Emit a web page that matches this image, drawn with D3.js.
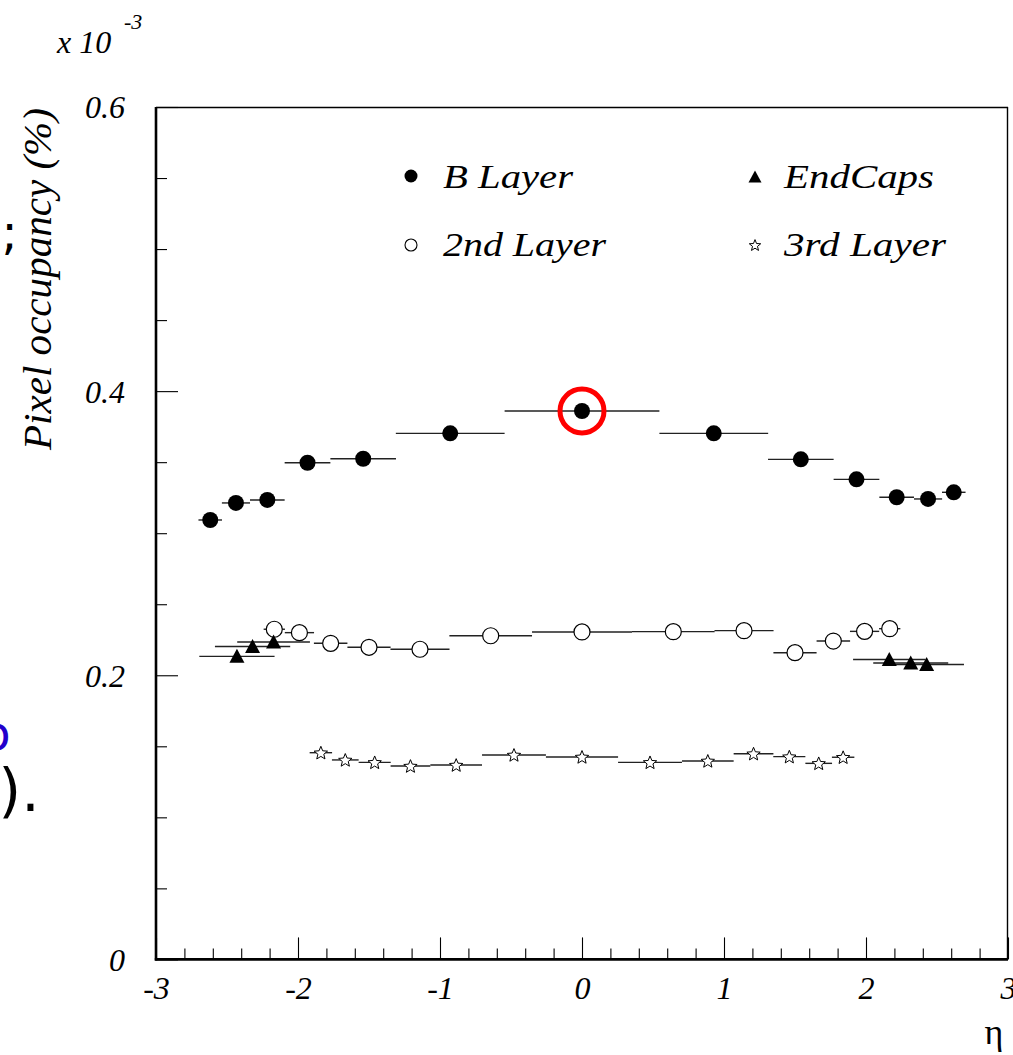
<!DOCTYPE html>
<html>
<head>
<meta charset="utf-8">
<script src="https://cdn.jsdelivr.net/npm/d3@7"></script>
<style>
  html, body { margin: 0; padding: 0; background: #fff; }
  svg { display: block; }
  .serif { font-family: "Liberation Serif", "Times New Roman", serif; font-style: italic; }
</style>
</head>
<body>
<svg id="chart" width="1013" height="1055"></svg>
<script>
// Pixel occupancy (in units of 1e-3 %) versus pseudorapidity for the pixel layers.
// Each bin: eta = bin centre, etaErr = half bin width, occ = occupancy.

const bLayerEta    = [-2.618, -2.437, -2.216, -1.933, -1.541, -0.928, 0, 0.928, 1.541, 1.933, 2.216, 2.437, 2.618];
const bLayerEtaErr = [0.083, 0.099, 0.122, 0.161, 0.231, 0.383, 0.545, 0.383, 0.231, 0.161, 0.122, 0.099, 0.083];
const bLayerOcc    = [0.3093, 0.3213, 0.3234, 0.3496, 0.3524, 0.3703, 0.3860, 0.3703, 0.3520, 0.3379, 0.3253, 0.3241, 0.3288];

const layer2Eta    = [-2.167, -1.990, -1.770, -1.500, -1.141, -0.643, 0, 0.643, 1.141, 1.500, 1.770, 1.990, 2.167];
const layer2EtaErr = [0.075, 0.103, 0.118, 0.152, 0.208, 0.291, 0.352, 0.291, 0.208, 0.152, 0.118, 0.103, 0.075];
const layer2Occ    = [0.2324, 0.2300, 0.2225, 0.2197, 0.2183, 0.2278, 0.2305, 0.2307, 0.2314, 0.2159, 0.2241, 0.2309, 0.2328];

const layer3Eta    = [-1.839, -1.667, -1.460, -1.208, -0.886, -0.479, 0, 0.479, 0.886, 1.208, 1.460, 1.667, 1.839];
const layer3EtaErr = [0.079, 0.094, 0.113, 0.140, 0.182, 0.225, 0.254, 0.225, 0.182, 0.140, 0.113, 0.094, 0.079];
const layer3Occ    = [0.1455, 0.1404, 0.1387, 0.1361, 0.1368, 0.1439, 0.1425, 0.1387, 0.1397, 0.1448, 0.1427, 0.1380, 0.1423];

const endCapEta    = [-2.430, -2.320, -2.172, 2.164, 2.315, 2.427];
const endCapEtaErr = [0.265, 0.265, 0.256, 0.255, 0.264, 0.263];
const endCapOcc    = [0.2133, 0.2202, 0.2234, 0.2111, 0.2086, 0.2076];

const seriesNames  = ["B Layer", "EndCaps", "2nd Layer", "3rd Layer"];
const xTickMajor   = [-3, -2, -1, 0, 1, 2, 3];
const yTickMajor   = [0, 0.2, 0.4, 0.6];
const highlightEta = 0;          // ringed bin
const yExponent    = "-3";

const zip = (eta, err, occ) => eta.map((e, i) => ({ eta: e, err: err[i], occ: occ[i] }));
const bLayer = zip(bLayerEta, bLayerEtaErr, bLayerOcc);
const layer2 = zip(layer2Eta, layer2EtaErr, layer2Occ);
const layer3 = zip(layer3Eta, layer3EtaErr, layer3Occ);
const endCap = zip(endCapEta, endCapEtaErr, endCapOcc);

const svg = d3.select("#chart");
const frame = { left: 156, right: 1008, top: 107, bottom: 959.4 };

const x = d3.scaleLinear().domain([-3, 3]).range([frame.left, frame.right]);
const y = d3.scaleLinear().domain([0, 0.6]).range([frame.bottom, frame.top]);

// ---------- axes (ticks point inwards) ----------
const xMinor = d3.range(-15, 16).filter(i => i % 5 !== 0).map(i => i / 5);
const yMinor = d3.range(0, 13).filter(i => i % 4 !== 0).map(i => i * 0.05);

function styleAxis(g) {
  g.select(".domain").remove();
  g.selectAll(".tick line").attr("stroke", "#000").attr("stroke-width", 1.1);
}

svg.append("g").attr("transform", `translate(0,${frame.bottom})`)
  .call(d3.axisBottom(x).tickValues(xMinor).tickSize(-11).tickFormat(""))
  .call(styleAxis);

const xAxisMajor = svg.append("g").attr("transform", `translate(0,${frame.bottom})`)
  .call(d3.axisBottom(x).tickValues(xTickMajor).tickSize(-22).tickFormat(d => String(d)))
  .call(styleAxis);
xAxisMajor.selectAll(".tick text")
  .attr("class", "serif").attr("y", 40).attr("dy", 0)
  .attr("font-size", 32).attr("fill", "#000");

svg.append("g").attr("transform", `translate(${frame.left},0)`)
  .call(d3.axisLeft(y).tickValues(yMinor).tickSize(-11).tickFormat(""))
  .call(styleAxis);

const yAxisMajor = svg.append("g").attr("transform", `translate(${frame.left},0)`)
  .call(d3.axisLeft(y).tickValues(yTickMajor).tickSize(-22).tickFormat(d => String(d)))
  .call(styleAxis);
yAxisMajor.selectAll(".tick text")
  .attr("class", "serif").attr("x", -31).attr("dy", "0.34em")
  .attr("font-size", 32).attr("fill", "#000");

// ---------- frame ----------
svg.append("line").attr("x1", frame.left).attr("x2", frame.right)
  .attr("y1", frame.top + 0.5).attr("y2", frame.top + 0.5)
  .attr("stroke", "#000").attr("stroke-width", 1.4);
svg.append("line").attr("x1", frame.right - 0.5).attr("x2", frame.right - 0.5)
  .attr("y1", frame.top).attr("y2", frame.bottom)
  .attr("stroke", "#000").attr("stroke-width", 1.4);
svg.append("line").attr("x1", frame.left).attr("x2", frame.left)
  .attr("y1", frame.top).attr("y2", frame.bottom + 1.2)
  .attr("stroke", "#000").attr("stroke-width", 2.6);
svg.append("line").attr("x1", frame.left - 1.2).attr("x2", frame.right)
  .attr("y1", frame.bottom).attr("y2", frame.bottom)
  .attr("stroke", "#000").attr("stroke-width", 2.6);

// ---------- axis titles ----------
svg.append("text").attr("class", "serif")
  .attr("transform", "translate(51,108) rotate(-90)")
  .attr("text-anchor", "end").attr("font-size", 40)
  .attr("textLength", 342).attr("lengthAdjust", "spacingAndGlyphs")
  .text("Pixel occupancy (%)");

svg.append("text")
  .attr("x", 994).attr("y", 1044).attr("text-anchor", "middle")
  .attr("font-family", "'Liberation Serif', serif").attr("font-size", 36)
  .text("η");

const expo = svg.append("text").attr("class", "serif").attr("x", 57).attr("y", 53).attr("font-size", 32);
expo.append("tspan").text("x 10");
expo.append("tspan").attr("x", 124).attr("y", 29).attr("font-size", 22).text(yExponent);

// ---------- marker shapes ----------
const trianglePath = (w, h) => `M0,${-h / 2 - 0.5}L${w / 2},${h / 2 - 0.5}L${-w / 2},${h / 2 - 0.5}Z`;
function starPath(R, r) {
  const pts = [];
  for (let k = 0; k < 10; k++) {
    const a = -Math.PI / 2 + k * Math.PI / 5;
    const rad = k % 2 === 0 ? R : r;
    pts.push([rad * Math.cos(a), rad * Math.sin(a) + 0.6]);
  }
  return "M" + pts.map(p => p[0].toFixed(2) + "," + p[1].toFixed(2)).join("L") + "Z";
}

// ---------- horizontal bin-width bars ----------
const plot = svg.append("g");
function binBars(data) {
  plot.append("g").selectAll("line").data(data).join("line")
    .attr("x1", d => x(d.eta - d.err)).attr("x2", d => x(d.eta + d.err))
    .attr("y1", d => y(d.occ)).attr("y2", d => y(d.occ))
    .attr("stroke", "#222").attr("stroke-width", 1.4);
}
[bLayer, layer2, layer3, endCap].forEach(binBars);

// B layer: filled circles
plot.append("g").selectAll("circle").data(bLayer).join("circle")
  .attr("cx", d => x(d.eta)).attr("cy", d => y(d.occ)).attr("r", 8).attr("fill", "#000");

// 2nd layer: open circles
plot.append("g").selectAll("circle").data(layer2).join("circle")
  .attr("cx", d => x(d.eta)).attr("cy", d => y(d.occ)).attr("r", 8)
  .attr("fill", "#fff").attr("stroke", "#000").attr("stroke-width", 1.2);

// 3rd layer: open stars
plot.append("g").selectAll("path").data(layer3).join("path")
  .attr("transform", d => `translate(${x(d.eta)},${y(d.occ)})`)
  .attr("d", starPath(7, 3.1))
  .attr("fill", "#fff").attr("stroke", "#000").attr("stroke-width", 1);

// End caps: filled triangles
plot.append("g").selectAll("path").data(endCap).join("path")
  .attr("transform", d => `translate(${x(d.eta)},${y(d.occ)})`)
  .attr("d", trianglePath(15, 14)).attr("fill", "#000");

// ring around the central B-layer bin
const hl = bLayer.find(d => d.eta === highlightEta);
svg.append("circle").attr("cx", x(hl.eta)).attr("cy", y(hl.occ)).attr("r", 22)
  .attr("fill", "none").attr("stroke", "#ff0000").attr("stroke-width", 5);

// ---------- legend ----------
const legend = svg.append("g");
const legendRows = [
  { name: seriesNames[0], mx: 411, my: 176, tx: 443, ty: 188, w: 130, kind: "dot" },
  { name: seriesNames[1], mx: 755, my: 177, tx: 784, ty: 188, w: 150, kind: "tri" },
  { name: seriesNames[2], mx: 411, my: 245, tx: 443, ty: 256, w: 163, kind: "ring" },
  { name: seriesNames[3], mx: 755, my: 245, tx: 784, ty: 256, w: 162, kind: "star" }
];
legendRows.forEach(r => {
  const g = legend.append("g").attr("transform", `translate(${r.mx},${r.my})`);
  if (r.kind === "dot") g.append("circle").attr("r", 6.5).attr("fill", "#000");
  if (r.kind === "ring") g.append("circle").attr("r", 6).attr("fill", "#fff").attr("stroke", "#000").attr("stroke-width", 1.1);
  if (r.kind === "tri") g.append("path").attr("d", trianglePath(13, 12)).attr("fill", "#000");
  if (r.kind === "star") g.append("path").attr("d", starPath(6, 2.6)).attr("fill", "#fff").attr("stroke", "#000").attr("stroke-width", 1);
  legend.append("text").attr("class", "serif")
    .attr("x", r.tx).attr("y", r.ty).attr("font-size", 33)
    .attr("textLength", r.w).attr("lengthAdjust", "spacingAndGlyphs")
    .text(r.name);
});

// ---------- text fragments running in from the left margin ----------
svg.append("text").attr("x", 1.5).attr("y", 249).attr("font-family", "'DejaVu Sans', sans-serif")
  .attr("font-size", 48).attr("fill", "#000").text(";");
svg.append("text").attr("x", -18.7).attr("y", 750).attr("font-family", "'DejaVu Sans', sans-serif")
  .attr("font-size", 48).attr("fill", "#2200cc").text("o");
svg.append("text").attr("x", -1.5).attr("y", 811).attr("font-family", "'DejaVu Sans', sans-serif")
  .attr("font-size", 58).attr("fill", "#000").text(").");
</script>
</body>
</html>
